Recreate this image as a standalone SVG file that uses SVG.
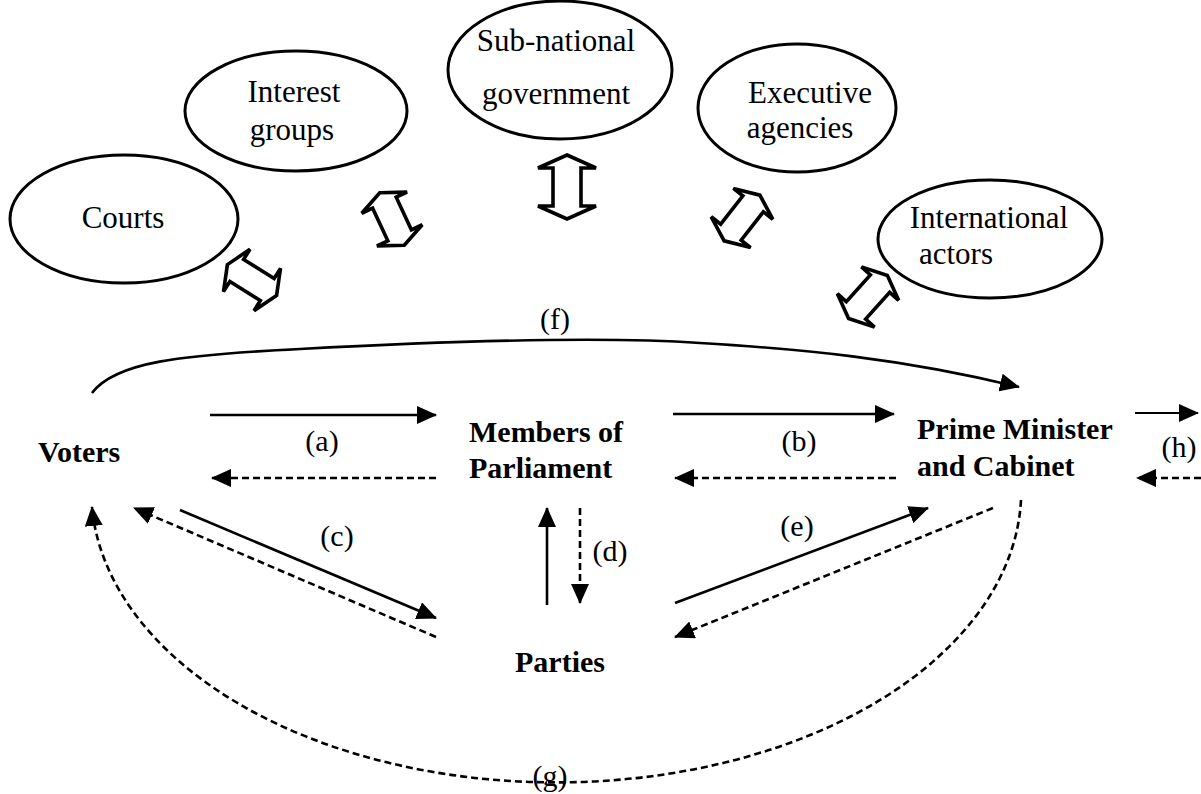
<svg xmlns="http://www.w3.org/2000/svg" width="1201" height="794" viewBox="0 0 1201 794">
<defs>
<style>
.ell{fill:#fff;stroke:#000;stroke-width:3}
.et{font-size:31px;fill:#000;text-anchor:middle}
.bt{font-size:30px;font-weight:bold;fill:#000}
.lb{font-size:30px;fill:#000;text-anchor:middle}
.blk{fill:#fff;stroke:#000;stroke-width:3.6;stroke-linejoin:miter}
.sol{fill:none;stroke:#000;stroke-width:2.6;marker-end:url(#ah)}
.dsh{fill:none;stroke:#000;stroke-width:2.6;stroke-dasharray:7 4;marker-end:url(#ah)}
</style>
<marker id="ah" viewBox="0 0 20 18" refX="19" refY="9" markerWidth="20" markerHeight="18" markerUnits="userSpaceOnUse" orient="auto">
<path d="M0,0 L20,9 L0,18 Z" fill="#000"/>
</marker>
<path id="darrow" d="M0,-29 L25,-18 L13,-18 L13,18 L25,18 L0,29 L-25,18 L-13,18 L-13,-18 L-25,-18 Z"/>
</defs>
<rect width="1201" height="794" fill="#fff"/>

<g font-family="Liberation Serif, Tinos, Times New Roman, DejaVu Serif, serif">
<g id="courts">
<ellipse class="ell" cx="124" cy="219" rx="114" ry="64"/>
<text class="et" x="123" y="228">Courts</text>
</g>
<g id="interest-groups">
<ellipse class="ell" cx="296" cy="111" rx="111" ry="60"/>
<text class="et" x="294" y="102">Interest</text>
<text class="et" x="292" y="140">groups</text>
</g>
<g id="sub-national-government">
<ellipse class="ell" cx="560" cy="70" rx="112" ry="69"/>
<text class="et" x="556" y="51">Sub-national</text>
<text class="et" x="556" y="104">government</text>
</g>
<g id="executive-agencies">
<ellipse class="ell" cx="797" cy="108" rx="99" ry="64"/>
<text class="et" x="810" y="103">Executive</text>
<text class="et" x="800" y="138">agencies</text>
</g>
<g id="international-actors">
<ellipse class="ell" cx="990" cy="239" rx="112" ry="59"/>
<text class="et" x="989" y="228">International</text>
<text class="et" x="956" y="264">actors</text>
</g>

<g id="block-arrows">
<use href="#darrow" class="blk" transform="translate(252,280) rotate(-58)"/>
<use href="#darrow" class="blk" transform="translate(392,219) rotate(-25)"/>
<path class="blk" d="M0,-32 L29,-19 L14,-19 L14,19 L29,19 L0,32 L-29,19 L-14,19 L-14,-19 L-29,-19 Z" transform="translate(567,187)"/>
<use href="#darrow" class="blk" transform="translate(742,218) rotate(38)"/>
<use href="#darrow" class="blk" transform="translate(868,297) rotate(42)"/>
</g>

<g id="voters"><text class="bt" x="38" y="462">Voters</text></g>
<g id="members-of-parliament">
<text class="bt" x="469" y="442">Members of</text>
<text class="bt" x="469" y="478">Parliament</text>
</g>
<g id="prime-minister-and-cabinet">
<text class="bt" x="917" y="439">Prime Minister</text>
<text class="bt" x="917" y="476">and Cabinet</text>
</g>
<g id="parties"><text class="bt" x="515" y="672">Parties</text></g>

<g id="connectors">
<line class="sol" x1="210" y1="415" x2="436" y2="415"/>
<line class="dsh" x1="436" y1="478" x2="212" y2="478"/>
<line class="sol" x1="673" y1="414" x2="894" y2="414"/>
<line class="dsh" x1="896" y1="478" x2="675" y2="478"/>
<line class="sol" x1="1135" y1="413" x2="1198" y2="413" style="stroke-width:1.8"/>
<line class="dsh" x1="1201" y1="478" x2="1137" y2="478"/>
<line class="sol" x1="180" y1="510" x2="436" y2="618"/>
<line class="dsh" x1="436" y1="637" x2="134" y2="508"/>
<line class="sol" x1="547" y1="605" x2="547" y2="508"/>
<line class="dsh" x1="580" y1="508" x2="580" y2="603"/>
<line class="sol" x1="675" y1="603" x2="928" y2="508"/>
<line class="dsh" x1="993" y1="508" x2="675" y2="637"/>
<path class="sol" d="M92,393 C115,362 180,355 300,349 C450,341 600,336 700,343 C800,349 900,358 1019,387"/>
<path class="dsh" d="M1021,500 A465,292 0 0 1 92,507"/>
</g>

<g id="labels">
<text class="lb" x="322" y="451">(a)</text>
<text class="lb" x="799" y="451">(b)</text>
<text class="lb" x="337" y="546">(c)</text>
<text class="lb" x="610" y="561">(d)</text>
<text class="lb" x="797" y="536">(e)</text>
<text class="lb" x="555" y="329">(f)</text>
<text class="lb" x="550" y="786">(g)</text>
<text class="lb" x="1179" y="457">(h)</text>
</g>
</g>
</svg>
